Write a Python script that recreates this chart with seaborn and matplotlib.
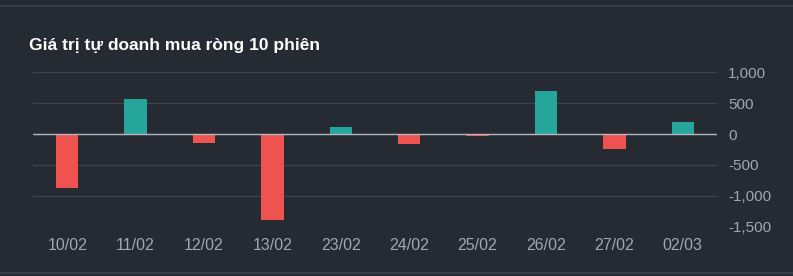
import matplotlib
matplotlib.use("Agg")
import matplotlib.pyplot as plt
import seaborn as sns
import pandas as pd
from matplotlib.ticker import FuncFormatter

dates = ["10/02", "11/02", "12/02", "13/02", "23/02", "24/02", "25/02", "26/02", "27/02", "02/03"]
values = [-870, 563, -141, -1396, 119, -162, -25, 698, -248, 200]
yticks = [-1500, -1000, -500, 0, 500, 1000]
title = "Giá trị tự doanh mua ròng 10 phiên"

BG = "#262a33"
GRID = "#3f434c"
TXT = "#a3a6af"
UP = "#26a69a"
DOWN = "#ef5350"

df = pd.DataFrame({"date": dates, "value": values})
df["sign"] = ["up" if v >= 0 else "down" for v in values]

sns.set_theme(style="dark")
plt.rcParams["font.family"] = ["Liberation Sans", "DejaVu Sans"]

fig = plt.figure(figsize=(7.93, 2.76), dpi=100)
fig.patch.set_facecolor(BG)
ax = fig.add_axes([33 / 793, (276 - 226.5) / 276, (717 - 33) / 793, 154 / 276])
ax.set_facecolor(BG)

sns.barplot(data=df, x="date", y="value", hue="sign",
            palette={"up": UP, "down": DOWN}, dodge=False, width=0.33,
            legend=False, ax=ax, saturation=1, linewidth=0)

ax.set_ylim(-1500, 1000)
ax.set_yticks(yticks)
ax.yaxis.tick_right()
ax.yaxis.set_major_formatter(FuncFormatter(lambda v, p: f"{int(v):,}"))
ax.grid(axis="y", color=GRID, linewidth=1)
ax.grid(axis="x", visible=False)
ax.set_axisbelow(True)
ax.axhline(0, color="#b2b5be", linewidth=1, zorder=3)
for s in ax.spines.values():
    s.set_visible(False)
ax.tick_params(axis="x", colors=TXT, labelsize=11.5, length=0, pad=8)
ax.tick_params(axis="y", colors=TXT, labelsize=11, length=0, pad=8)
ax.set_xlabel("")
ax.set_ylabel("")

fig.text(29 / 793, 1 - 45 / 276, title, color="white", fontsize=12.5,
         fontweight="bold", va="center", ha="left")

# frame lines at top and bottom of the card
fig.add_artist(plt.Line2D([0, 1], [1 - 6 / 276, 1 - 6 / 276], color="#3a3e47", linewidth=1.5))
fig.add_artist(plt.Line2D([0, 1], [1 - 273 / 276, 1 - 273 / 276], color="#3a3e47", linewidth=1.5))

fig.savefig("out.png", dpi=100, facecolor=BG)
